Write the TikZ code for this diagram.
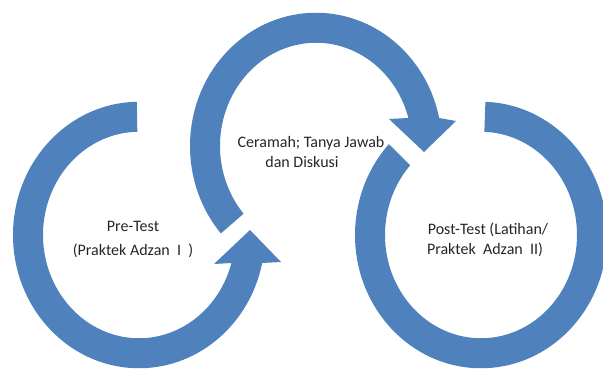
\documentclass[tikz,border=0pt]{standalone}
\usepackage{fontspec}
\setmainfont{Carlito}
\definecolor{arrowblue}{RGB}{79,129,189}
\begin{document}
\begin{tikzpicture}[x=1pt,y=1pt,
  band/.style={fill=arrowblue, draw=none},
  lbl/.style={font=\fontsize{16}{20}\selectfont, text=black!85, inner sep=0pt, anchor=base}]
\useasboundingbox (0,0) rectangle (603,368);
\clip (0,0) rectangle (603,368);
% left circular arrow (Pre-Test)
\begin{scope}[shift={(139,133)}]
\fill[band] (91:126 and 133.25)
  arc[start angle=91, end angle=347.87, x radius=126, y radius=133.25]
  -- (142,-27) -- (111,5) -- (75,-29)
  -- (344.26:96 and 103.25)
  arc[start angle=344.26, end angle=91, x radius=96, y radius=103.25] -- cycle;
\end{scope}
% top circular arrow (Ceramah)
\begin{scope}[shift={(316,222)}]
\fill[band] (221:126 and 133.25)
  arc[start angle=221, end angle=12.13, x radius=126, y radius=133.25]
  -- (140,25) -- (108,-6) -- (73,27)
  -- (15.74:96 and 103.25)
  arc[start angle=15.74, end angle=221, x radius=96, y radius=103.25] -- cycle;
\end{scope}
% right block arc (Post-Test)
\begin{scope}[shift={(481,133)}]
\fill[band] (88:126 and 133.25)
  arc[start angle=88, end angle=-223, x radius=126, y radius=133.25]
  -- (-222.5:96 and 103.25)
  arc[start angle=-222.5, end angle=88, x radius=96, y radius=103.25] -- cycle;
\end{scope}
% labels
\node[lbl] (pre1) at (133,137) {Pre-Test};
\node[lbl] (pre2) at (133,113) {(Praktek Adzan\ \ I\ \ )};
\node[lbl] (cer1) at (311,221) {Ceramah; Tanya Jawab};
\node[lbl] (cer2) at (302,201) {dan Diskusi};
\node[lbl] (post1) at (488,134) {Post-Test (Latihan/};
\node[lbl] (post2) at (485,114) {Praktek\ \ Adzan\ \ II)};
\end{tikzpicture}
\end{document}
